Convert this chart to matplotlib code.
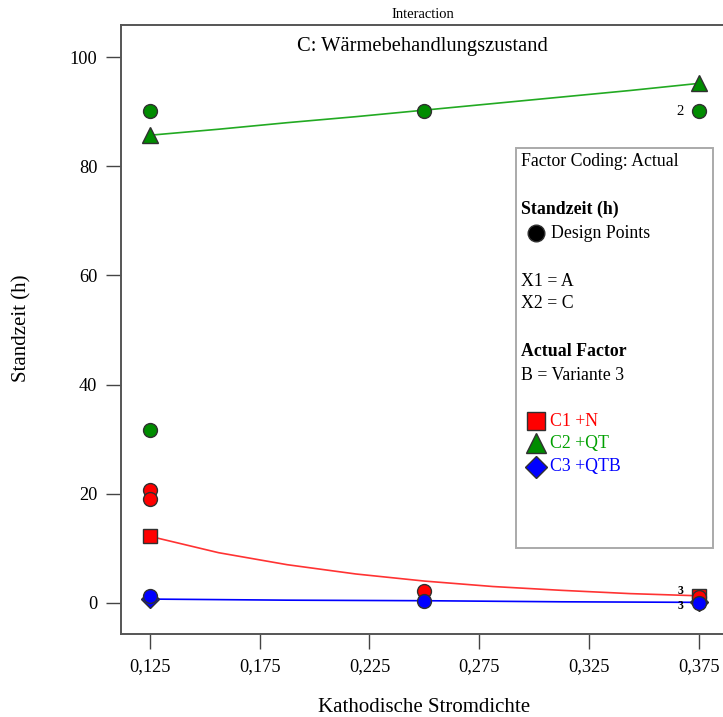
import matplotlib
matplotlib.use("Agg")
import matplotlib.pyplot as plt
from matplotlib.patches import Rectangle
from matplotlib.lines import Line2D

plt.rcParams['font.family'] = ['Liberation Serif', 'DejaVu Serif']

# ---- data ----
xticks = [0.125, 0.175, 0.225, 0.275, 0.325, 0.375]
xtick_labels = ["0,125", "0,175", "0,225", "0,275", "0,325", "0,375"]
yticks = [0, 20, 40, 60, 80, 100]

curve_x = [0.125, 0.15625, 0.1875, 0.21875, 0.25, 0.28125, 0.3125, 0.34375, 0.375]
c1_curve = [12.2, 9.2, 7.0, 5.3, 4.0, 3.0, 2.3, 1.7, 1.3]
c2_curve = [85.7, 86.8, 88.0, 89.1, 90.3, 91.5, 92.7, 93.9, 95.2]
c3_curve = [0.7, 0.6, 0.5, 0.45, 0.4, 0.3, 0.2, 0.15, 0.1]

end_x = [0.125, 0.375]
c1_end = [12.2, 1.3]
c2_end = [85.7, 95.2]
c3_end = [0.7, 0.1]

c1_pts_x = [0.125, 0.125, 0.25, 0.375]
c1_pts_y = [20.7, 19.1, 2.1, 1.0]
c2_pts_x = [0.125, 0.125, 0.25, 0.375]
c2_pts_y = [90.1, 31.7, 90.1, 90.1]
c3_pts_x = [0.125, 0.25, 0.375]
c3_pts_y = [1.3, 0.3, 0.05]

labels_txt = ["2", "3", "3"]
labels_x = [0.375, 0.375, 0.375]
labels_y = [90.1, 2.1, -0.6]

W, H = 723, 717
fig = plt.figure(figsize=(W / 100, H / 100), dpi=100)
L, R, T, B = 121, 724, 25, 634
ax = fig.add_axes([L / W, 1 - B / H, (R - L) / W, (B - T) / H])

RED, GREEN, BLUE = "#FF0000", "#008C00", "#0000FF"
GLINE = "#22AA22"
EDGE = "#303030"

ax.plot(curve_x, c1_curve, color="#FF3333", lw=1.2, zorder=2)
ax.plot(curve_x, c2_curve, color=GLINE, lw=1.2, zorder=2)
ax.plot(curve_x, c3_curve, color=BLUE, lw=1.2, zorder=2)

ax.plot(end_x, c1_end, ls="none", marker="s", ms=10, mfc=RED, mec=EDGE, mew=1, zorder=3)
ax.plot(end_x, c2_end, ls="none", marker="^", ms=11, mfc=GREEN, mec=EDGE, mew=1, zorder=3)
ax.plot(end_x, c3_end, ls="none", marker="D", ms=9, mfc=BLUE, mec=EDGE, mew=1, zorder=3)

ax.plot(c2_pts_x, c2_pts_y, ls="none", marker="o", ms=10, mfc=GREEN, mec=EDGE, mew=1, zorder=4)
ax.plot(c1_pts_x, c1_pts_y, ls="none", marker="o", ms=10, mfc=RED, mec=EDGE, mew=1, zorder=4)
ax.plot(c3_pts_x, c3_pts_y, ls="none", marker="o", ms=10, mfc=BLUE, mec=EDGE, mew=1, zorder=5)

for t, lx, ly in zip(labels_txt, labels_x, labels_y):
    bold = ly < 10
    ax.annotate(t, (lx, ly), xytext=(-11, 0), textcoords="offset points",
                ha="right", va="center", fontsize=8.5 if bold else 10.5,
                fontweight="bold" if bold else "normal", color="black", zorder=6)

ax.set_xlim(0.1118, 0.3865)
ax.set_ylim(-5.7, 105.9)
ax.set_xticks(xticks)
ax.set_xticklabels(xtick_labels)
ax.set_yticks(yticks)
ax.tick_params(direction="out", length=11, width=1, color="#444444", labelsize=13.2, pad=6)
for s in ["left", "bottom", "top"]:
    ax.spines[s].set_color("#555555")
    ax.spines[s].set_linewidth(1.4)
ax.spines["right"].set_visible(False)

ax.text(0.5, 0.965, "C: Wärmebehandlungszustand", transform=ax.transAxes,
        ha="center", va="center", fontsize=14.8)

fig.text(423 / W, 1 - 14 / H, "Interaction", ha="center", va="center", fontsize=10.5)
fig.text(424 / W, 1 - 708 / H, "Kathodische Stromdichte", ha="center", va="center", fontsize=15)
fig.text(22 / W, 1 - 328 / H, "Standzeit (h)", ha="center", va="center", fontsize=15, rotation=90)

# legend box
bx0, by0, bx1, by1 = 516, 148, 713, 548
fig.patches.append(Rectangle((bx0 / W, 1 - by1 / H), (bx1 - bx0) / W, (by1 - by0) / H,
                             transform=fig.transFigure, fill=False, edgecolor="#AAAAAA",
                             lw=1.4, zorder=10))

def ftxt(x, y, s, **kw):
    fig.text(x / W, 1 - y / H, s, ha="left", va="center", fontsize=12.8, **kw)

ftxt(521, 161, "Factor Coding: Actual")
ftxt(521, 209, "Standzeit (h)", fontweight="bold")
ftxt(551, 233, "Design Points")
ftxt(521, 281, "X1 = A")
ftxt(521, 304, "X2 = C")
ftxt(521, 351, "Actual Factor", fontweight="bold")
ftxt(521, 375, "B = Variante 3")
ftxt(550, 421, "C1 +N", color=RED)
ftxt(550, 444, "C2 +QT", color="#00A000")
ftxt(550, 467, "C3 +QTB", color=BLUE)

def fmark(x, y, m, ms, fc):
    fig.add_artist(Line2D([x / W], [1 - y / H], marker=m, ms=ms, mfc=fc, mec=EDGE,
                          mew=1, ls="none", transform=fig.transFigure))

fmark(536, 233, "o", 12, "black")
fmark(536, 421, "s", 13, RED)
fmark(536, 443, "^", 14, GREEN)
fmark(536, 467, "D", 11, BLUE)

fig.savefig("out.png", dpi=100)
